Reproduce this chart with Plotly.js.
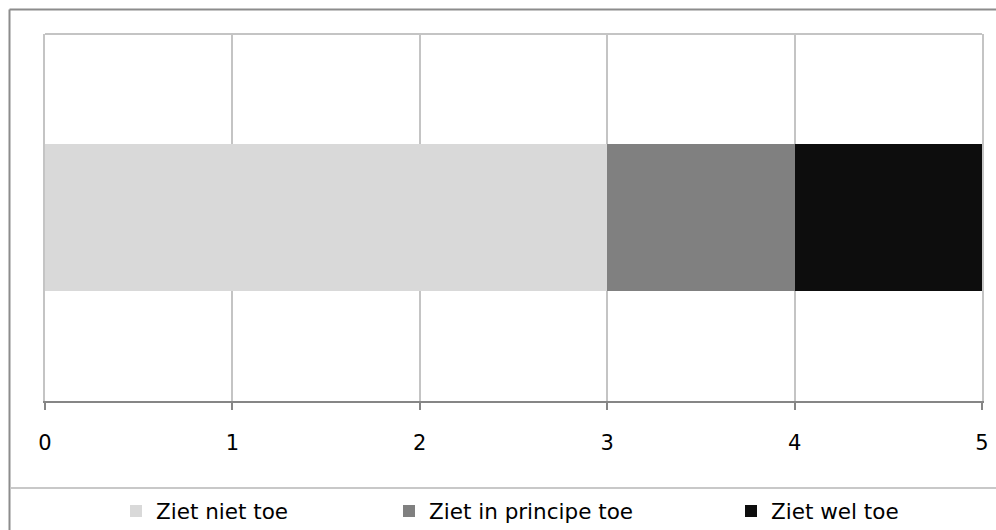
<!DOCTYPE html>
<html>
<head>
<meta charset="utf-8">
<script src="https://cdn.plot.ly/plotly-3.0.1.min.js"></script>
<style>html,body{margin:0;padding:0;background:#fff;}#chart{width:996px;height:530px;}</style>
</head>
<body>
<div id="chart"></div>
<script>
// Data
const categories = ['Antwoord'];
const seriesNames = ['Ziet niet toe', 'Ziet in principe toe', 'Ziet wel toe'];
const seriesValues = [[3], [1], [1]];
const seriesColors = ['#d9d9d9', '#808080', '#0d0d0d'];
const xTicks = [0, 1, 2, 3, 4, 5];

const legendNames = ['legend', 'legend2', 'legend3'];
const traces = seriesNames.map((name, i) => ({
  type: 'bar',
  orientation: 'h',
  name: name,
  x: seriesValues[i],
  y: categories,
  marker: {color: seriesColors[i], line: {width: 0}},
  legend: legendNames[i],
  hoverinfo: 'x+name'
}));

// geometry helpers (plot area: x 45..982, y 34..401 in px)
const L = 45, R = 982, T = 34, B = 401, W = 996, H = 530;
const px = v => (v - L) / (R - L);
const py = v => (B - v) / (B - T);

const legFont = {family: 'DejaVu Sans, Verdana, sans-serif', size: 21.5, color: '#000'};
const legendBase = {
  orientation: 'h', yanchor: 'middle', xanchor: 'left',
  xref: 'container', yref: 'container',
  font: legFont, bgcolor: 'rgba(0,0,0,0)', borderwidth: 0
};
const legendX = [116, 389, 731];
const legendY = (H - 511) / H;

const layout = {
  width: W, height: H,
  margin: {l: L, r: W - R, t: T, b: H - B, pad: 0, autoexpand: false},
  paper_bgcolor: '#fff', plot_bgcolor: '#fff',
  barmode: 'stack',
  bargap: 0.6,
  showlegend: true,
  legend: Object.assign({}, legendBase, {x: legendX[0] / W, y: legendY}),
  legend2: Object.assign({}, legendBase, {x: legendX[1] / W, y: legendY}),
  legend3: Object.assign({}, legendBase, {x: legendX[2] / W, y: legendY}),
  xaxis: {
    range: [0, 5], tickvals: xTicks, ticktext: xTicks.map(String),
    showgrid: true, gridcolor: '#c4c4c4', gridwidth: 2,
    zeroline: false,
    showline: true, linecolor: '#868686', linewidth: 2,
    ticks: 'outside', ticklen: 7, tickcolor: '#868686', tickwidth: 2,
    ticklabelstandoff: 15,
    tickfont: {family: 'DejaVu Sans, Verdana, sans-serif', size: 21, color: '#000'},
    fixedrange: true
  },
  yaxis: {
    type: 'category', range: [-0.5, 0.5],
    showticklabels: false, ticks: '', showgrid: false, zeroline: false,
    showline: true, mirror: true, linecolor: '#c4c4c4', linewidth: 2,
    fixedrange: true
  },
  shapes: [
    // top border of plot area
    {type: 'line', xref: 'paper', yref: 'paper', x0: 0, x1: 1, y0: 1, y1: 1,
     line: {color: '#c4c4c4', width: 2}},
    // outer chart border (top and left, continuing past the window)
    {type: 'line', xref: 'paper', yref: 'paper', x0: px(9.5), x1: px(1000), y0: py(9.5), y1: py(9.5),
     line: {color: '#8c8c8c', width: 2}},
    {type: 'line', xref: 'paper', yref: 'paper', x0: px(9.5), x1: px(9.5), y0: py(9.5), y1: py(535),
     line: {color: '#8c8c8c', width: 2}},
    // legend box top border
    {type: 'line', xref: 'paper', yref: 'paper', x0: px(10.5), x1: px(1000), y0: py(488), y1: py(488),
     line: {color: '#c8c8c8', width: 2}}
  ]
};

Plotly.newPlot('chart', traces, layout, {displayModeBar: false});
</script>
</body>
</html>
